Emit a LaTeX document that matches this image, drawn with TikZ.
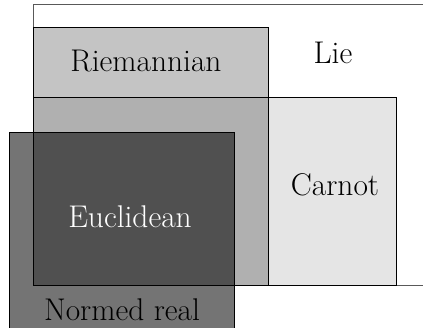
\documentclass[tikz,border=0pt]{standalone}
\begin{document}
\begin{tikzpicture}[x=1pt,y=-1pt,
  setbox/.style={draw=black,line width=0.9pt},
  lbl/.style={anchor=base,inner sep=0pt,font=\fontsize{31.4}{37}\selectfont}]
\useasboundingbox (0,0) rectangle (423,328);
\begin{scope}
\clip (0,0) rectangle (423,328);
\draw[setbox,draw=black!65,fill=white] (33,4) rectangle (440,285);
\draw[setbox,fill=black,fill opacity=0.23] (33,27) rectangle (268,285);
\draw[setbox,fill=black,fill opacity=0.10] (33,97) rectangle (396,285);
\draw[setbox,fill=black,fill opacity=0.545] (9,132) rectangle (234,340);
\end{scope}
\node[lbl] (lie) at (333,64) {Lie};
\node[lbl] (riem) at (146,72) {Riemannian};
\node[lbl] (carnot) at (335,196) {Carnot};
\node[lbl,text=white] (eucl) at (130,228) {Euclidean};
\node[lbl] (normed) at (122,321) {Normed real};
\end{tikzpicture}
\end{document}
